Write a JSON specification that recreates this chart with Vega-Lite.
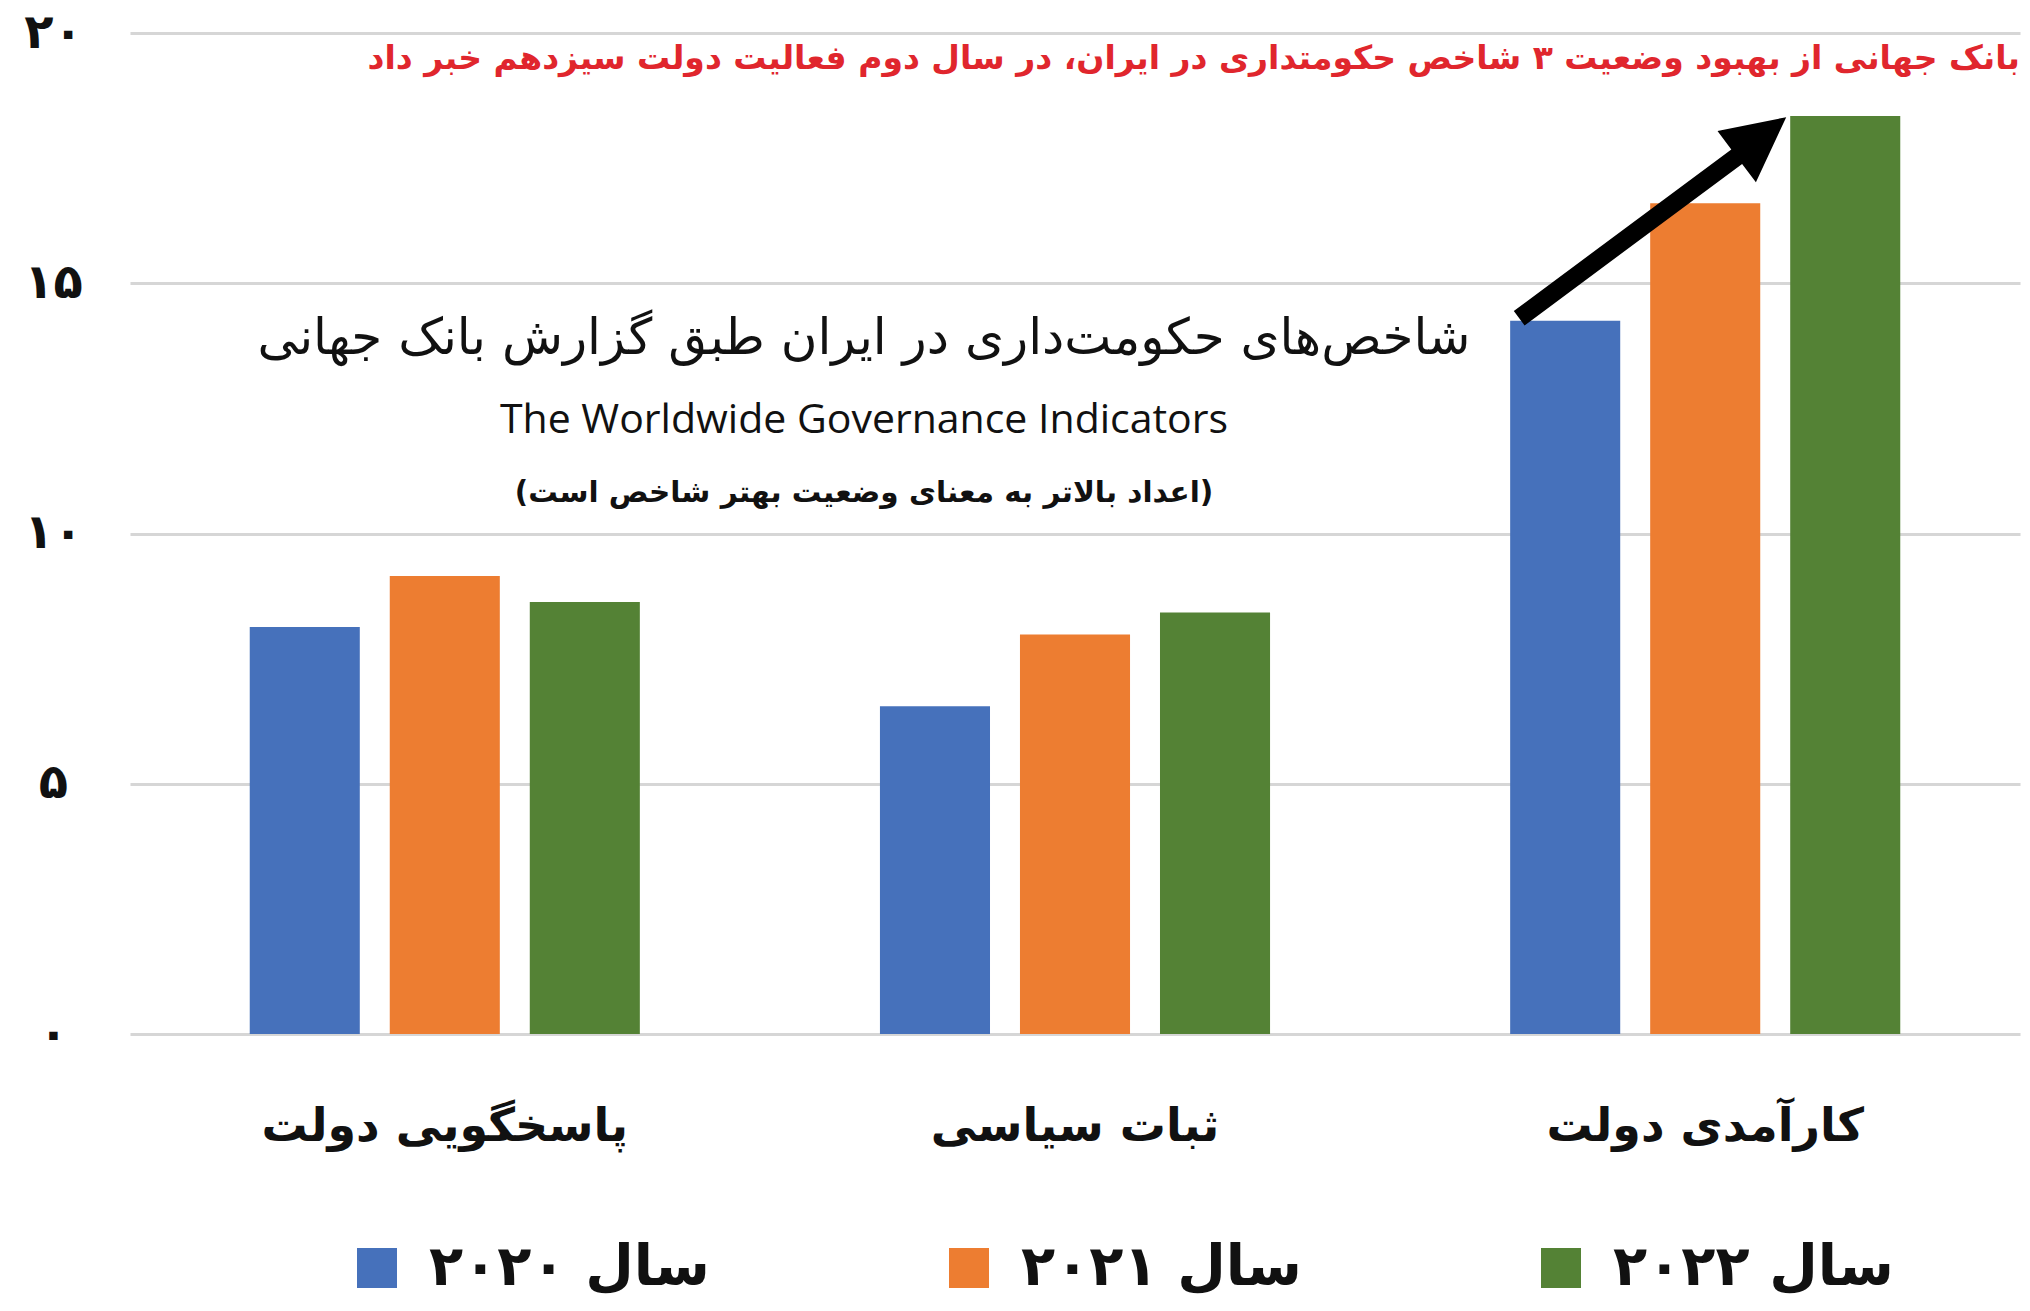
{
  "$schema": "https://vega.github.io/schema/vega-lite/v6.json",
  "width": 1890,
  "height": 1001,
  "autosize": {"type": "none"},
  "padding": {"left": 130, "top": 33, "right": 10, "bottom": 277},
  "background": "white",
  "config": {"view": {"stroke": null}, "font": "DejaVu Sans"},
  "title": {
    "text": "بانک جهانی از بهبود وضعیت ۳ شاخص حکومتداری در ایران، در سال دوم فعالیت دولت سیزدهم خبر داد",
    "anchor": "end",
    "frame": "group",
    "orient": "top",
    "color": "#e0262d",
    "font": "DejaVu Sans",
    "fontSize": 33,
    "fontWeight": "bold",
    "baseline": "middle",
    "offset": 0,
    "dy": 83
  },
  "layer": [
    {
      "data": {"values": [
        {"cat": "پاسخگویی دولت", "year": "سال ۲۰۲۰", "value": 8.13},
        {"cat": "پاسخگویی دولت", "year": "سال ۲۰۲۱", "value": 9.15},
        {"cat": "پاسخگویی دولت", "year": "سال ۲۰۲۲", "value": 8.63},
        {"cat": "ثبات سیاسی", "year": "سال ۲۰۲۰", "value": 6.55},
        {"cat": "ثبات سیاسی", "year": "سال ۲۰۲۱", "value": 7.98},
        {"cat": "ثبات سیاسی", "year": "سال ۲۰۲۲", "value": 8.42},
        {"cat": "کارآمدی دولت", "year": "سال ۲۰۲۰", "value": 14.25},
        {"cat": "کارآمدی دولت", "year": "سال ۲۰۲۱", "value": 16.6},
        {"cat": "کارآمدی دولت", "year": "سال ۲۰۲۲", "value": 18.34}
      ]},
      "mark": {"type": "bar"},
      "encoding": {
        "x": {
          "field": "cat", "type": "nominal",
          "sort": ["پاسخگویی دولت", "ثبات سیاسی", "کارآمدی دولت"],
          "scale": {"paddingInner": 0.381, "paddingOuter": 0.19},
          "axis": {
            "title": null, "labelAngle": 0, "domain": false, "ticks": false, "tickSize": 0,
            "labelFontSize": 46, "labelFontWeight": "bold", "labelFont": "DejaVu Sans",
            "labelColor": "#111111", "labelPadding": 92, "labelBaseline": "middle", "labelLimit": 0, "grid": false
          }
        },
        "xOffset": {
          "field": "year", "type": "nominal",
          "sort": ["سال ۲۰۲۰", "سال ۲۰۲۱", "سال ۲۰۲۲"],
          "scale": {"paddingInner": 0.214, "paddingOuter": 0}
        },
        "y": {
          "field": "value", "type": "quantitative",
          "scale": {"domain": [0, 20], "nice": false},
          "axis": {
            "title": null, "values": [0, 5, 10, 15, 20], "grid": true, "gridColor": "#d6d6d6", "gridWidth": 3,
            "domain": false, "ticks": false, "tickSize": 0,
            "labelExpr": "['۰','۵','۱۰','۱۵','۲۰'][datum.value/5]",
            "labelFontSize": 48, "labelFontWeight": "bold", "labelFont": "DejaVu Sans", "labelColor": "#111111",
            "labelPadding": 77, "labelAlign": "center", "labelBaseline": "middle"
          }
        },
        "color": {
          "field": "year", "type": "nominal",
          "sort": ["سال ۲۰۲۰", "سال ۲۰۲۱", "سال ۲۰۲۲"],
          "scale": {"domain": ["سال ۲۰۲۰", "سال ۲۰۲۱", "سال ۲۰۲۲"], "range": ["#4671bb", "#ed7d31", "#548235"]},
          "legend": {
            "orient": "none", "legendX": 219, "legendY": 1207, "direction": "horizontal", "columns": 3,
            "title": null, "symbolType": "square", "symbolSize": 1600, "symbolStrokeWidth": 0, "symbolOpacity": 1,
            "labelFontSize": 56, "labelFontWeight": "bold", "labelFont": "DejaVu Sans", "labelColor": "#111111",
            "labelOffset": 24, "columnPadding": 231, "gridAlign": "all", "labelLimit": 0
          }
        }
      }
    },
    {
      "data": {"values": [{"cat": "کارآمدی دولت", "year": "سال ۲۰۲۱", "value": 16.42}]},
      "mark": {
        "type": "point",
        "shape": "M -0.957 0.494 L 0.1305 -0.3135 L 0.0615 -0.4055 L 0.405 -0.475 L 0.2535 -0.1495 L 0.1845 -0.2415 L -0.903 0.566 Z",
        "size": 160000, "filled": true, "color": "#000000", "opacity": 1, "strokeWidth": 0
      },
      "encoding": {
        "x": {"field": "cat", "type": "nominal", "sort": ["پاسخگویی دولت", "ثبات سیاسی", "کارآمدی دولت"], "title": null},
        "xOffset": {"field": "year", "type": "nominal", "sort": ["سال ۲۰۲۰", "سال ۲۰۲۱", "سال ۲۰۲۲"]},
        "y": {"field": "value", "type": "quantitative", "title": null}
      }
    },
    {
      "data": {"values": [{"cat": "ثبات سیاسی", "value": 13.89, "label": "شاخص‌های حکومت‌داری در ایران طبق گزارش بانک جهانی"}]},
      "mark": {"type": "text", "font": "DejaVu Sans", "fontSize": 50, "color": "#111111", "dx": -211, "align": "center", "baseline": "middle"},
      "encoding": {
        "x": {"field": "cat", "type": "nominal", "sort": ["پاسخگویی دولت", "ثبات سیاسی", "کارآمدی دولت"], "title": null},
        "y": {"field": "value", "type": "quantitative", "title": null},
        "text": {"field": "label"}
      }
    },
    {
      "data": {"values": [{"cat": "ثبات سیاسی", "value": 12.25, "label": "The Worldwide Governance Indicators"}]},
      "mark": {"type": "text", "font": "Open Sans", "fontSize": 41, "color": "#111111", "dx": -211, "align": "center", "baseline": "middle"},
      "encoding": {
        "x": {"field": "cat", "type": "nominal", "sort": ["پاسخگویی دولت", "ثبات سیاسی", "کارآمدی دولت"], "title": null},
        "y": {"field": "value", "type": "quantitative", "title": null},
        "text": {"field": "label"}
      }
    },
    {
      "data": {"values": [{"cat": "ثبات سیاسی", "value": 10.81, "label": "(اعداد بالاتر به معنای وضعیت بهتر شاخص است)"}]},
      "mark": {"type": "text", "font": "DejaVu Sans", "fontSize": 29.5, "fontWeight": "bold", "color": "#111111", "dx": -211, "align": "center", "baseline": "middle"},
      "encoding": {
        "x": {"field": "cat", "type": "nominal", "sort": ["پاسخگویی دولت", "ثبات سیاسی", "کارآمدی دولت"], "title": null},
        "y": {"field": "value", "type": "quantitative", "title": null},
        "text": {"field": "label"}
      }
    }
  ]
}
